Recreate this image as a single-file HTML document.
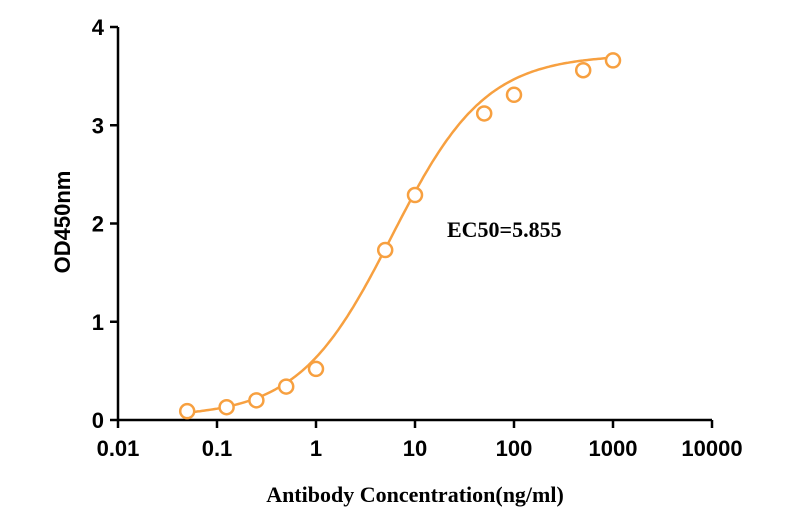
<!DOCTYPE html>
<html><head><meta charset="utf-8"><style>
body{margin:0;background:#fff}
svg text{font-family:"Liberation Sans",sans-serif;font-weight:bold}
</style></head><body>
<svg width="787" height="522" viewBox="0 0 787 522">
<g id="axes"></g><g id="plot"></g>
<text x="447" y="237" font-size="22" style="font-family:'Liberation Serif',serif">EC50=5.855</text>
<text x="415" y="502" font-size="22" text-anchor="middle" style="font-family:'Liberation Serif',serif">Antibody Concentration(ng/ml)</text>
<text transform="translate(70,222) rotate(-90)" font-size="22" text-anchor="middle">OD450nm</text>
</svg>
<script>
const xTicks=[0.01,0.1,1,10,100,1000,10000];
const xTickLabels=["0.01","0.1","1","10","100","1000","10000"];
const yTicks=[0,1,2,3,4];
const yTickLabels=["0","1","2","3","4"];
const concentrations=[0.05,0.125,0.25,0.5,1,5,10,50,100,500,1000];
const odValues=[0.09,0.13,0.2,0.34,0.52,1.73,2.29,3.12,3.31,3.56,3.66];
const fitBottom=0.03, fitTop=3.72, ec50=5.855, hill=0.92;
const NS="http://www.w3.org/2000/svg";
const X0=118,X1=712,Y0=420,Y1=27;
const xs=v=>X0+(Math.log10(v)+2)/6*(X1-X0);
const ys=v=>Y0-v/4*(Y0-Y1);
function mk(t,a,p){const e=document.createElementNS(NS,t);for(const k in a)e.setAttribute(k,a[k]);p.appendChild(e);return e;}
const ax=document.getElementById('axes'),pl=document.getElementById('plot');
let e=mk('line',{x1:X0,y1:Y0,x2:X1,y2:Y0,stroke:'#000','stroke-width':2.5},ax);


e=mk('line',{x1:X0,y1:Y0,x2:X0,y2:Y1,stroke:'#000','stroke-width':2.5},ax);


xTicks.forEach((v,i)=>{
 const x=xs(v);
 mk('line',{x1:x,y1:Y0,x2:x,y2:Y0+8,stroke:'#000','stroke-width':2.5},ax);
 const t=mk('text',{x:x,y:Y0+36,'font-size':22,'text-anchor':'middle'},ax);
 t.textContent=xTickLabels[i];
 
 
});
yTicks.forEach((v,i)=>{
 const y=ys(v);
 mk('line',{x1:X0-8,y1:y,x2:X0,y2:y,stroke:'#000','stroke-width':2.5},ax);
 const t=mk('text',{x:X0-14,y:y+8,'font-size':22,'text-anchor':'end'},ax);
 t.textContent=yTickLabels[i];
 
 
});
const f=x=>fitBottom+(fitTop-fitBottom)/(1+Math.pow(ec50/x,hill));
let d='';
const lo=Math.log10(concentrations[0]),hi=Math.log10(concentrations[concentrations.length-1]);
for(let i=0;i<=200;i++){const lx=lo+(hi-lo)*i/200,x=Math.pow(10,lx);d+=(i?'L':'M')+xs(x).toFixed(1)+','+ys(f(x)).toFixed(1);}
e=mk('path',{d:d,fill:'none',stroke:'#f7a040','stroke-width':2.5},pl);


concentrations.forEach((c,i)=>{
 const p=mk('circle',{cx:xs(c),cy:ys(odValues[i]),r:7,fill:'#fff',stroke:'#f7a040','stroke-width':2.5},pl);
 
 
});
</script>
</body></html>
